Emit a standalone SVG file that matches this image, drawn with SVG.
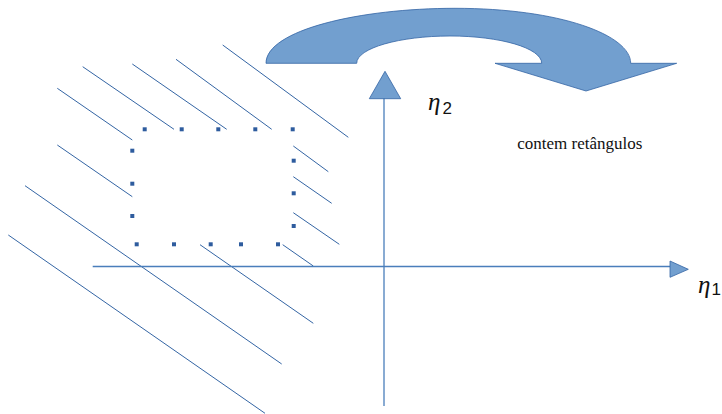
<svg xmlns="http://www.w3.org/2000/svg" width="722" height="414" viewBox="0 0 722 414">
<style>
.ln{stroke:#3465a4;stroke-width:1;fill:none}
.ax{stroke:#4a7ebb;stroke-width:1.3;fill:none}
.hd{fill:#729fcf;stroke:#3465a4;stroke-width:0.8}
.dot{fill:#2e5c9e}
.eta{font-family:"Liberation Serif",serif;font-style:italic;font-size:25px;fill:#111}
.sub{font-family:"Liberation Sans",sans-serif;font-size:17px;fill:#111}
.lbl{font-family:"Liberation Serif",serif;font-size:17px;fill:#111}
</style>
<rect width="722" height="414" fill="#fff"/>
<g id="hatch">
<line class="ln" x1="222.7" y1="45" x2="348.3" y2="137.3"/>
<line class="ln" x1="176" y1="59.3" x2="271.7" y2="129.3"/>
<line class="ln" x1="132.3" y1="64" x2="226.7" y2="129.3"/>
<line class="ln" x1="82.7" y1="66.7" x2="174" y2="129.3"/>
<line class="ln" x1="57.3" y1="88.3" x2="132.3" y2="140"/>
<line class="ln" x1="57.3" y1="145" x2="132.3" y2="196.7"/>
<line class="ln" x1="25" y1="185.7" x2="281.7" y2="364"/>
<line class="ln" x1="8.3" y1="235" x2="265" y2="413.3"/>
<line class="ln" x1="200" y1="244.7" x2="313.3" y2="323.3"/>
<line class="ln" x1="293.3" y1="146" x2="328.3" y2="171.7"/>
<line class="ln" x1="293.3" y1="176.7" x2="331.7" y2="203.3"/>
<line class="ln" x1="293.3" y1="212.7" x2="339.3" y2="244.3"/>
<line class="ln" x1="282.7" y1="244.7" x2="313.3" y2="266"/>
</g>
<g id="dotted-rect">
<rect class="dot" x="142.7" y="127.3" width="4" height="4"/>
<rect class="dot" x="179.7" y="127.3" width="4" height="4"/>
<rect class="dot" x="216.3" y="127.3" width="4" height="4"/>
<rect class="dot" x="253.3" y="127.3" width="4" height="4"/>
<rect class="dot" x="290.7" y="127.3" width="4" height="4"/>
<rect class="dot" x="130.3" y="148.7" width="4" height="4"/>
<rect class="dot" x="130.3" y="181.7" width="4" height="4"/>
<rect class="dot" x="130.3" y="214" width="4" height="4"/>
<rect class="dot" x="291.7" y="158.7" width="4" height="4"/>
<rect class="dot" x="291.7" y="191.3" width="4" height="4"/>
<rect class="dot" x="291.7" y="224" width="4" height="4"/>
<rect class="dot" x="134.7" y="242.3" width="4" height="4"/>
<rect class="dot" x="172" y="242.3" width="4" height="4"/>
<rect class="dot" x="208.7" y="242.3" width="4" height="4"/>
<rect class="dot" x="239" y="242.3" width="4" height="4"/>
<rect class="dot" x="276" y="242.3" width="4" height="4"/>
</g>
<g id="axes">
<line class="ax" x1="92.7" y1="266.5" x2="671" y2="266.5"/>
<polygon class="hd" points="670,261 688.3,269.3 670,277.3"/>
<line class="ax" x1="384" y1="98" x2="384" y2="406"/>
<polygon class="hd" points="369.3,98.7 385,71.3 400.7,98.7"/>
</g>
<g id="curved-arrow">
<path class="hd" d="M266,63.3 C266,30 360,8.3 455,8.3 C560,8.3 630.7,35 630.7,63.3 L676.7,63.3 L586,91 L495,63.3 L541.7,63.3 C541.7,48 500,36 450,36 C400,36 356.7,48 356.7,63.3 Z"/>
</g>
<g id="labels">
<text class="eta" x="428" y="110">η</text><text class="sub" x="442.5" y="113.5">2</text>
<text class="eta" x="698" y="293">η</text><text class="sub" x="711.5" y="294.5">1</text>
<text class="lbl" x="517.3" y="149">contem retângulos</text>
</g>
</svg>
